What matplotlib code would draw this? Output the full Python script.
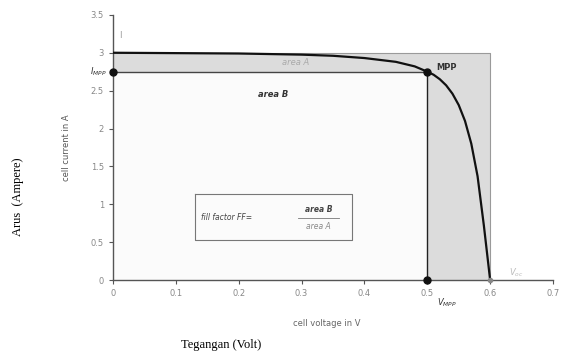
import matplotlib.pyplot as plt
import numpy as np

# I-V curve of a solar cell
volt = [0, 0.1, 0.2, 0.3, 0.35, 0.4, 0.45, 0.48, 0.5, 0.51, 0.52, 0.53, 0.54, 0.55, 0.56, 0.57, 0.58, 0.59, 0.6]
amp = [3.0, 2.995, 2.99, 2.975, 2.96, 2.93, 2.88, 2.82, 2.75, 2.71, 2.65, 2.57, 2.46, 2.31, 2.1, 1.8, 1.37, 0.72, 0.0]
isc = 3.0
voc = 0.6
v_mpp = 0.5
i_mpp = 2.75
xticks = [0, 0.1, 0.2, 0.3, 0.4, 0.5, 0.6, 0.7]
xticklabels = ["0", "0.1", "0.2", "0.3", "0.4", "0.5", "0.6", "0.7"]
yticks = [0, 0.5, 1, 1.5, 2, 2.5, 3, 3.5]
yticklabels = ["0", "0.5", "1", "1.5", "2", "2.5", "3", "3.5"]

fig = plt.figure(figsize=(5.62, 3.54), dpi=100)
ax = fig.add_axes([0.201, 0.209, 0.783, 0.749])
ax.set_xlim(0, 0.7)
ax.set_ylim(0, 3.5)

# area A (gray) and area B (white)
ax.fill_between([0, voc], 0, isc, color="#dcdcdc", lw=0, zorder=1)
ax.plot([0, voc, voc], [isc, isc, 0], color="#9a9a9a", lw=0.8, zorder=2)
ax.fill_between([0, v_mpp], 0, i_mpp, color="#fbfbfb", lw=0, zorder=2)
ax.plot([0, v_mpp], [i_mpp, i_mpp], color="#444444", lw=1.0, zorder=3)
ax.plot([v_mpp, v_mpp], [0, i_mpp], color="#222222", lw=1.0, zorder=3)

ax.plot(volt, amp, color="#111111", lw=1.6, zorder=4)
ax.plot([0, v_mpp, v_mpp], [i_mpp, i_mpp, 0], "o", color="#111111", ms=5, zorder=5, clip_on=False)
ax.plot([voc], [0], "o", color="#888888", ms=3, zorder=5, clip_on=False)

for s in ["top", "right"]:
    ax.spines[s].set_visible(False)
for s in ["left", "bottom"]:
    ax.spines[s].set_color("#555555")
    ax.spines[s].set_linewidth(1.0)
ax.set_xticks(xticks)
ax.set_xticklabels(xticklabels)
ax.set_yticks(yticks)
ax.set_yticklabels(yticklabels)
ax.tick_params(colors="#555555", labelcolor="#888888", labelsize=6, length=3, width=0.8)

ax.text(0.01, 3.2, "I", fontsize=6, color="#999999")
ax.text(-0.01, i_mpp, "$I_{MPP}$", fontsize=6, ha="right", va="center",
        color="#333333", fontweight="bold", fontstyle="italic")
ax.text(0.29, 2.87, "area A", fontsize=6, color="#aaaaaa", fontstyle="italic", ha="center", va="center")
ax.text(0.255, 2.45, "area B", fontsize=6, color="#333333", fontweight="bold", fontstyle="italic",
        ha="center", va="center")
ax.text(0.515, 2.8, "MPP", fontsize=6, color="#333333", fontweight="bold", va="center")
ax.text(0.515, -0.3, "$V_{MPP}$", fontsize=6, color="#333333", va="center")
ax.text(0.63, 0.06, "$V_{oc}$", fontsize=6, color="#bbbbbb")

# fill factor box
ax.plot([0.13, 0.38, 0.38, 0.13, 0.13], [1.13, 1.13, 0.53, 0.53, 1.13], color="#777777", lw=0.8)
ax.text(0.14, 0.82, "fill factor FF=", fontsize=5.5, color="#444444", fontstyle="italic", va="center")
ax.text(0.327, 0.93, "area B", fontsize=5.5, color="#444444", fontstyle="italic",
        fontweight="bold", ha="center", va="center")
ax.plot([0.295, 0.36], [0.82, 0.82], color="#777777", lw=0.6)
ax.text(0.327, 0.71, "area A", fontsize=5.5, color="#888888", fontstyle="italic", ha="center", va="center")

ax.set_ylabel("cell current in A", fontsize=6, color="#555555")
ax.yaxis.set_label_coords(-0.095, 0.5)
ax.text(0.34, -0.57, "cell voltage in V", fontsize=6, color="#666666", ha="center", va="center")

fig.text(0.032, 0.443, "Arus  (Ampere)", rotation=90, fontsize=9, family="Liberation Serif",
         ha="center", va="center")
fig.text(0.393, 0.025, "Tegangan (Volt)", fontsize=9, family="Liberation Serif",
         ha="center", va="center")

fig.savefig("out.png", dpi=100)
